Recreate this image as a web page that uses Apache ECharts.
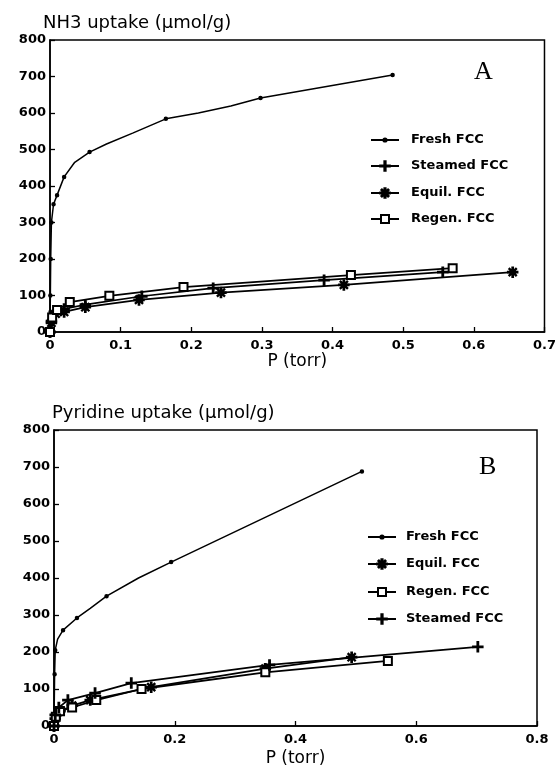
<!DOCTYPE html>
<html><head><meta charset="utf-8">
<script src="https://cdn.jsdelivr.net/npm/echarts@6/dist/echarts.min.js"></script>
<style>html,body{margin:0;padding:0;background:#fff}#c{width:559px;height:772px}</style>
</head><body><div id="c"></div>
<script>
// ---- data ----
const legendA = ['Fresh FCC', 'Steamed FCC', 'Equil. FCC', 'Regen. FCC'];
const legendB = ['Fresh FCC', 'Equil. FCC', 'Regen. FCC', 'Steamed FCC'];
const yMax = 800, yStep = 100;
const xMaxA = 0.7, xStepA = 0.1;
const xMaxB = 0.8, xStepB = 0.2;

// Panel A: NH3 uptake (µmol/g) vs P (torr) — measured points
const nh3Fresh   = [[0,0],[0.0005,100],[0.001,200],[0.002,300],[0.005,350],[0.01,375],[0.02,425],[0.056,493],[0.164,584],[0.298,641],[0.485,704]];
const nh3FreshCurve = [[0.035,465],[0.08,515],[0.117,545],[0.21,600],[0.256,619]]; // points (no marker)
const nh3Steamed = [[0,0],[0.002,30],[0.006,55],[0.02,63],[0.05,75],[0.13,98],[0.231,120],[0.388,142],[0.556,164]];
const nh3Equil   = [[0,0],[0.002,25],[0.008,50],[0.02,55],[0.05,68],[0.126,88],[0.242,108],[0.416,129],[0.655,164]];
const nh3Regen   = [[0,0],[0.003,40],[0.01,60],[0.028,82],[0.084,99],[0.189,123],[0.426,156],[0.57,175]];

// Panel B: Pyridine uptake (µmol/g) vs P (torr)
const pyrFresh   = [[0,0],[0.001,140],[0.002,205],[0.015,259],[0.038,292],[0.087,351],[0.194,443],[0.51,688]];
const pyrFreshCurve = [[0.006,235],[0.06,318],[0.14,400]];
const pyrEquil   = [[0,0],[0.002,20],[0.01,40],[0.03,55],[0.06,70],[0.161,105],[0.35,155],[0.493,186]];
const pyrRegen   = [[0,0],[0.003,25],[0.01,40],[0.03,50],[0.07,70],[0.145,100],[0.35,145],[0.553,176]];
const pyrSteamed = [[0,0],[0.002,30],[0.008,50],[0.023,70],[0.068,89],[0.128,116],[0.357,165],[0.702,214]];

// ---- styles ----
const PLUS = 'path://M4.35,0h1.3v10h-1.3z M0,4.35h10v1.3h-10z';
const STAR = 'path://M4.4,0h1.2v10h-1.2z M0,4.4h10v1.2h-10z M1.2,1.8 L1.8,1.2 L8.8,8.2 L8.2,8.8z M8.2,1.2 L8.8,1.8 L1.8,8.8 L1.2,8.2z';
const styleOf = {
  'Fresh FCC':   {symbol: 'circle', symbolSize: 3, width: 1.5, legendH: 4},
  'Steamed FCC': {symbol: PLUS, symbolSize: 10, width: 1.7, legendH: 12},
  'Equil. FCC':  {symbol: STAR, symbolSize: 10, width: 1.8, legendH: 12},
  'Regen. FCC':  {symbol: 'emptyRect', symbolSize: 8, width: 1.8, legendH: 10}
};
function mk(name, data, idx, curve) {
  const s = styleOf[name];
  const pts = data.map(d => ({value: d}))
    .concat((curve || []).map(d => ({value: d, symbol: 'none'})))
    .sort((a, b) => a.value[0] - b.value[0]);
  return {
    name, type: 'line', data: pts, xAxisIndex: idx, yAxisIndex: idx,
    symbol: s.symbol, symbolSize: s.symbolSize, showSymbol: true,
    smooth: false,
    lineStyle: {color: '#000', width: s.width},
    itemStyle: {color: '#000', borderColor: '#000', borderWidth: 1.5},
    emphasis: {disabled: true}, animation: false, z: 3
  };
}
const FONT = 'DejaVu Sans';
const tickFmt = v => (v === 0 ? '0' : String(+v.toFixed(1)));
function xAxis(idx, max, step, gap) {
  return {
    type: 'value', gridIndex: idx, min: 0, max: max, interval: step,
    name: 'P (torr)', nameLocation: 'middle', nameGap: gap,
    nameTextStyle: {color: '#000', fontFamily: FONT, fontSize: 17},
    axisLine: {show: true, onZero: false, lineStyle: {color: '#000', width: 1.5}},
    axisTick: {show: true, inside: true, length: 5, lineStyle: {color: '#000', width: 1.3}},
    axisLabel: {color: '#000', fontFamily: FONT, fontWeight: 'bold', fontSize: 13, margin: 7, formatter: tickFmt},
    splitLine: {show: false}
  };
}
function yAxis(idx, title, shift) {
  return {
    type: 'value', gridIndex: idx, min: 0, max: yMax, interval: yStep,
    name: title, nameLocation: 'end', nameGap: 8,
    nameTextStyle: {color: '#000', fontFamily: FONT, fontSize: 18, align: 'left', padding: [0, 0, 0, shift]},
    axisLine: {show: true, onZero: false, lineStyle: {color: '#000', width: 1.5}},
    axisTick: {show: true, inside: true, length: 5, lineStyle: {color: '#000', width: 1.3}},
    axisLabel: {color: '#000', fontFamily: FONT, fontWeight: 'bold', fontSize: 13, margin: 4},
    splitLine: {show: false}
  };
}
// one legend component per entry so each icon can have its own size
function legends(names, left, firstCenter, step, textPad) {
  return names.map((n, i) => ({
    data: [n], orient: 'vertical', left: left, top: Math.round(firstCenter + i * step - 7),
    itemWidth: 28, itemHeight: styleOf[n].legendH, selectedMode: false, padding: 0,
    textStyle: {color: '#000', fontFamily: FONT, fontWeight: 'bold', fontSize: 13, lineHeight: 14, padding: [0, 0, 0, textPad]}
  }));
}

const chart = echarts.init(document.getElementById('c'), null, {renderer: 'canvas'});
chart.setOption({
  backgroundColor: '#fff',
  animation: false,
  grid: [
    {left: 50, top: 40, width: 498, height: 292, show: true, borderColor: '#000', borderWidth: 1.5, backgroundColor: 'transparent'},
    {left: 54, top: 430, width: 483, height: 296, show: true, borderColor: '#000', borderWidth: 1.5, backgroundColor: 'transparent'}
  ],
  xAxis: [xAxis(0, xMaxA, xStepA, 21), xAxis(1, xMaxB, xStepB, 24)],
  yAxis: [yAxis(0, 'NH3 uptake (µmol/g)', -7), yAxis(1, 'Pyridine uptake (µmol/g)', -2)],
  legend: legends(legendA, 370, 140, 26.3, 7).concat(legends(legendB, 367, 537, 27.3, 5)),
  graphic: [
    {type: 'text', left: 474, top: 59, style: {text: 'A', font: '26px "Liberation Serif"', fill: '#000'}},
    {type: 'text', left: 479, top: 454, style: {text: 'B', font: '26px "Liberation Serif"', fill: '#000'}}
  ],
  series: [
    mk('Fresh FCC', nh3Fresh, 0, nh3FreshCurve), mk('Steamed FCC', nh3Steamed, 0), mk('Equil. FCC', nh3Equil, 0), mk('Regen. FCC', nh3Regen, 0),
    mk('Fresh FCC', pyrFresh, 1, pyrFreshCurve), mk('Equil. FCC', pyrEquil, 1), mk('Regen. FCC', pyrRegen, 1), mk('Steamed FCC', pyrSteamed, 1)
  ]
});
</script></body></html>
